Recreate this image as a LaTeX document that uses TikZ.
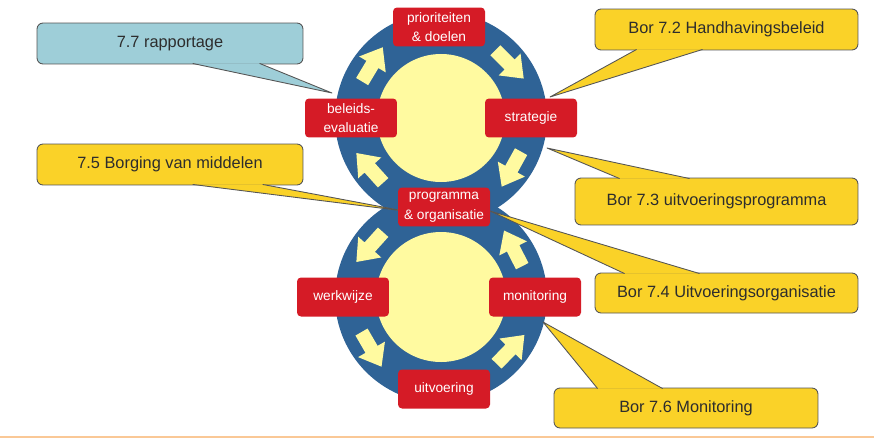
\documentclass[tikz,border=0pt]{standalone}
\usepackage{fontspec}
\setmainfont{Liberation Sans}
\usetikzlibrary{calc}
\definecolor{ringblue}{RGB}{47,99,150}
\definecolor{corefill}{RGB}{255,250,160}
\definecolor{boxred}{RGB}{213,27,38}
\definecolor{noteyellow}{RGB}{250,210,40}
\definecolor{noteblue}{RGB}{158,206,216}
\definecolor{noteline}{RGB}{85,85,85}
\definecolor{notetext}{RGB}{45,45,45}
\definecolor{footrule}{RGB}{250,200,150}
\def\ringarrow(#1)(#2:#3){\begin{scope}[shift={($(#1)+(#2:87)$)},rotate=#3]
	\fill[corefill] (-20,-7) -- (0,-7) -- (0,-15.5) -- (20,0) -- (0,15.5) -- (0,7) -- (-20,7) -- cycle;
	\end{scope}}

\begin{document}
\begin{tikzpicture}[x=0.02cm,y=0.02cm,
		stage/.style={fill=boxred,text=white,rounded corners=0.08cm,minimum width=1.84cm,minimum height=0.78cm,align=center,inner sep=1pt,font=\fontsize{7.8}{11.2}\selectfont},
		note/.style={draw=noteline,line width=0.5pt,rounded corners=0.12cm,minimum height=0.82cm,inner sep=1pt,text=notetext,font=\fontsize{9.3}{11}\selectfont},
		wedge/.style={draw=noteline,line width=0.5pt,line join=round}]
		%%%%% START %%%%%
		
		\useasboundingbox (0,0) rectangle (874,-439);
		
		\coordinate (upc) at (441,-118);
		\coordinate (loc) at (441,-297);
		
		\fill[ringblue] (upc) circle (106);
		\fill[ringblue] (loc) circle (106);
		\fill[corefill] (upc) circle (64);
		\fill[corefill] (loc) circle (65);
		
		\ringarrow(upc)(38:-45);
		\ringarrow(upc)(-36:-119);
		\ringarrow(upc)(215:132);
		\ringarrow(upc)(142:59);
		
		\ringarrow(loc)(145:228);
		\ringarrow(loc)(217:300);
		\ringarrow(loc)(-37:46);
		\ringarrow(loc)(34:117);
		
		\coordinate (t77) at (332,-93);
		\coordinate (t75) at (404,-211);
		\coordinate (t72) at (550,-97);
		\coordinate (t73) at (547,-148);
		\coordinate (t74) at (490,-211);
		\coordinate (t76) at (543,-322);
		
		\node[note,fill=noteblue,minimum width=5.32cm] (n77) at (170,-43.5) {7.7 rapportage};
		\filldraw[wedge,fill=noteblue] ($(n77.south west)+(156,1)$) -- (t77) -- ($(n77.south west)+(223,1)$);
		
		\node[note,fill=noteyellow,minimum width=5.32cm] (n75) at (170,-164.5) {7.5 Borging van middelen};
		\filldraw[wedge,fill=noteyellow] ($(n75.south west)+(156,1)$) -- (t75) -- ($(n75.south west)+(226,1)$);
		
		\node[note,fill=noteyellow,minimum width=5.26cm] (n72) at (726.5,-29.5) {Bor 7.2 Handhavingsbeleid};
		\filldraw[wedge,fill=noteyellow] ($(n72.south west)+(42,1)$) -- (t72) -- ($(n72.south west)+(108,1)$);
		
		\node[note,fill=noteyellow,minimum width=5.66cm,minimum height=0.94cm] (n73) at (716.5,-201.5) {Bor 7.3 uitvoeringsprogramma};
		\filldraw[wedge,fill=noteyellow] ($(n73.north west)+(45,-1)$) -- (t73) -- ($(n73.north west)+(115,-1)$);
		
		\node[note,fill=noteyellow,minimum width=5.26cm,minimum height=0.8cm] (n74) at (726.5,-293) {Bor 7.4 Uitvoeringsorganisatie};
		\filldraw[wedge,fill=noteyellow] ($(n74.north west)+(30,-1)$) -- (t74) -- ($(n74.north west)+(105,-1)$);
		
		\node[note,fill=noteyellow,minimum width=5.28cm,minimum height=0.8cm] (n76) at (686,-408) {Bor 7.6 Monitoring};
		\filldraw[wedge,fill=noteyellow] ($(n76.north west)+(44,-1)$) -- (t76) -- ($(n76.north west)+(109,-1)$);
		
		\node[stage] (prio) at (439,-27) {prioriteiten\\\& doelen};
		\node[stage] (eval) at (351,-118) {beleids-\\evaluatie};
		\node[stage] (strat) at (531,-118) {strategie};
		\node[stage] (prog) at (444,-207) {programma\\\& organisatie};
		\node[stage] (werk) at (343,-297) {werkwijze};
		\node[stage] (moni) at (535,-297) {monitoring};
		\node[stage] (uitv) at (444,-389) {uitvoering};
		
		\draw[footrule,line width=1.2pt] (0,-437) -- (874,-437);
		
		%%%%% END %%%%%
	\end{tikzpicture}
\end{document}
